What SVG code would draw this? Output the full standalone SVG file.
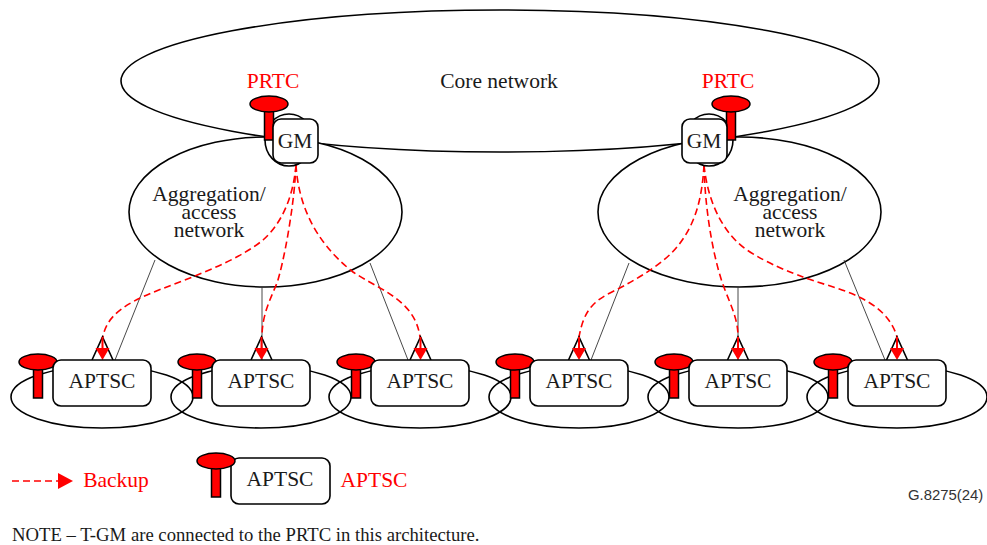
<svg xmlns="http://www.w3.org/2000/svg" xmlns:xlink="http://www.w3.org/1999/xlink" width="987" height="545" viewBox="0 0 987 545">
<style>
text{font-family:"Liberation Serif","Times New Roman",serif;fill:#1a1a1a;font-size:21.500px;text-anchor:middle}
.red{fill:#f00}
.e{fill:none;stroke:#000;stroke-width:1.6}
.ew{fill:#fff;stroke:#000;stroke-width:1.6}
.box{fill:#fff;stroke:#000;stroke-width:1.6}
.thin{fill:none;stroke:#333;stroke-width:.9}
.d{fill:none;stroke:#f00;stroke-width:1.6;stroke-dasharray:7 4}
.cap{fill:#f00;stroke:#000;stroke-width:1.5}
.ah{fill:#f00;stroke:none}
.tri{fill:none;stroke:#000;stroke-width:1.6}
</style>
<defs>
<g id="prtc"><rect class="cap" x="-4.500" y="0" width="9" height="33"/><ellipse class="cap" cx="0" cy="-3" rx="19" ry="8"/></g>
<g id="head"><path class="tri" d="M-10.500 23L0 0L10.500 23"/><path class="ah" d="M-1 0H1V11H7L0 23L-7 11H-1Z"/></g>
</defs>
<g id="core-network"><ellipse class="e" cx="500" cy="81" rx="379" ry="71"/><text x="499" y="88">Core network</text></g>
<g id="agg-left"><ellipse class="ew" cx="265.500" cy="212" rx="136.500" ry="75"/><text x="209" y="201">Aggregation/<tspan x="209" dy="18">access</tspan><tspan x="209" dy="18">network</tspan></text></g>
<g id="agg-right"><ellipse class="ew" cx="739.500" cy="212" rx="141.500" ry="75"/><text x="790" y="201">Aggregation/<tspan x="790" dy="18">access</tspan><tspan x="790" dy="18">network</tspan></text></g>
<g id="rings">
<ellipse class="e" cx="102" cy="397" rx="91" ry="31"/><ellipse class="e" cx="261" cy="397" rx="90" ry="31"/><ellipse class="e" cx="420" cy="397" rx="91" ry="31"/><ellipse class="e" cx="579" cy="397" rx="90" ry="31"/><ellipse class="e" cx="738" cy="397" rx="90" ry="31"/><ellipse class="e" cx="897" cy="397" rx="90" ry="31"/>
</g>
<g id="connectors">
<path class="thin" d="M155 260L115 360M262 287V360M370 263L408 360M629 263L591 360M738 287V360M844 260L885 360"/>
<path class="d" d="M296 165C293 200 280 225 263 240C245 255 215 268 190 278C150 294 108 305 103 337"/>
<path class="d" d="M296 165C294 210 283 265 277 283C270 300 262 315 262 337"/>
<path class="d" d="M296 165C298 200 312 240 353 272C380 290 415 300 420 337"/>
<path class="d" d="M704 165C702 200 695 225 677 247C665 262 640 278 610 293C590 303 583 315 579 337"/>
<path class="d" d="M704 165C705 215 715 265 725 290C732 308 738 320 738 337"/>
<path class="d" d="M704 165C708 205 725 235 747 250C770 265 790 272 803 277C830 288 885 295 897 337"/>
</g>
<g id="prtc-left"><text x="273" y="88" class="red" style="fill:#f00">PRTC</text><ellipse class="ew" cx="289" cy="140" rx="24" ry="26"/><use xlink:href="#prtc" x="269" y="107"/></g>
<g id="gm-left"><rect class="box" x="273" y="119" width="45" height="44" rx="8"/><text x="295" y="148">GM</text></g>
<g id="prtc-right"><text x="728" y="88" class="red" style="fill:#f00">PRTC</text><ellipse class="ew" cx="709" cy="140" rx="24" ry="26"/><use xlink:href="#prtc" x="731" y="107"/></g>
<g id="gm-right"><rect class="box" x="682" y="119" width="45" height="44" rx="8"/><text x="704" y="148">GM</text></g>
<g id="aptsc-1"><use xlink:href="#prtc" x="38" y="365"/><use xlink:href="#head" x="102.500" y="337"/><rect class="box" x="53" y="360" width="98" height="46" rx="8"/><text x="102" y="388">APTSC</text></g>
<g id="aptsc-2"><use xlink:href="#prtc" x="197" y="365"/><use xlink:href="#head" x="261.500" y="337"/><rect class="box" x="212" y="360" width="98" height="46" rx="8"/><text x="261" y="388">APTSC</text></g>
<g id="aptsc-3"><use xlink:href="#prtc" x="356" y="365"/><use xlink:href="#head" x="420.500" y="337"/><rect class="box" x="371" y="360" width="98" height="46" rx="8"/><text x="420" y="388">APTSC</text></g>
<g id="aptsc-4"><use xlink:href="#prtc" x="515" y="365"/><use xlink:href="#head" x="579" y="337"/><rect class="box" x="530" y="360" width="98" height="46" rx="8"/><text x="579" y="388">APTSC</text></g>
<g id="aptsc-5"><use xlink:href="#prtc" x="674" y="365"/><use xlink:href="#head" x="738" y="337"/><rect class="box" x="689" y="360" width="98" height="46" rx="8"/><text x="738" y="388">APTSC</text></g>
<g id="aptsc-6"><use xlink:href="#prtc" x="833" y="365"/><use xlink:href="#head" x="897" y="337"/><rect class="box" x="848" y="360" width="98" height="46" rx="8"/><text x="897" y="388">APTSC</text></g>
<g id="legend">
<path class="d" d="M12 481H60"/><path class="ah" d="M58 473L73 481L58 489Z"/>
<text x="116" y="487" style="fill:#f00">Backup</text>
<rect class="box" x="231" y="458" width="99" height="46" rx="8"/><text x="280" y="486">APTSC</text>
<use xlink:href="#prtc" x="216" y="464"/>
<text x="374" y="487" style="fill:#f00">APTSC</text>
</g>
<text x="908" y="500" style="font-family:'Liberation Sans',Arial,sans-serif;font-size:14.900px;text-anchor:start;fill:#333">G.8275(24)</text>
<text x="12" y="541" style="font-size:18.700px;text-anchor:start">NOTE – T-GM are connected to the PRTC in this architecture.</text>
</svg>
